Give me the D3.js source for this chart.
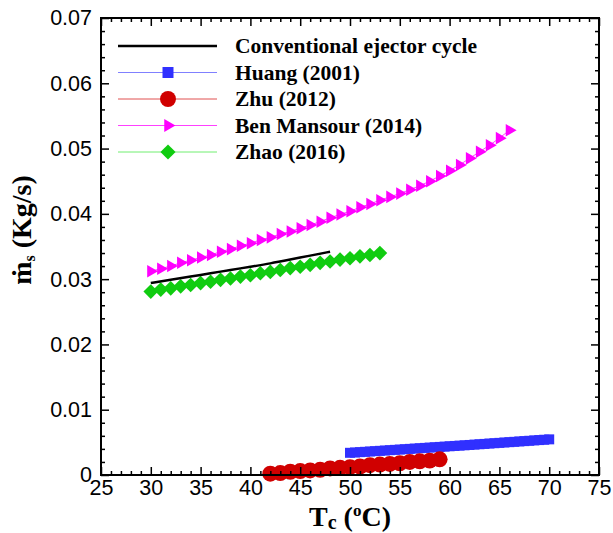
<!DOCTYPE html>
<html>
<head>
<meta charset="utf-8">
<script src="https://cdn.jsdelivr.net/npm/d3@7"></script>
<style>
  body { margin: 0; background: #fff; }
  svg { display: block; }
</style>
</head>
<body>
<svg id="chart" width="613" height="533"></svg>
<script>
// ---- data ----
const convT = [30, 32, 34, 36, 38, 40, 42, 44, 46, 48];
const convMs = [0.0294, 0.0299, 0.0304, 0.0309, 0.0314, 0.0319, 0.0324, 0.0330, 0.0336, 0.0342];

const huangT = [50, 50.5, 51, 51.5, 52, 52.5, 53, 53.5, 54, 54.5, 55, 55.5, 56, 56.5, 57, 57.5, 58, 58.5, 59, 59.5,
  60, 60.5, 61, 61.5, 62, 62.5, 63, 63.5, 64, 64.5, 65, 65.5, 66, 66.5, 67, 67.5, 68, 68.5, 69, 69.5, 70];
const huangMs = [0.00340, 0.00345, 0.00350, 0.00355, 0.00360, 0.00365, 0.00370, 0.00375, 0.00380, 0.00385,
  0.00390, 0.00395, 0.00400, 0.00405, 0.00410, 0.00415, 0.00420, 0.00425, 0.00430, 0.00435,
  0.00440, 0.00445, 0.00450, 0.00455, 0.00460, 0.00466, 0.00471, 0.00476, 0.00482, 0.00487,
  0.00492, 0.00498, 0.00503, 0.00508, 0.00514, 0.00519, 0.00524, 0.00530, 0.00535, 0.00540, 0.00546];

const zhuT = [42, 43, 44, 45, 46, 47, 48, 49, 50, 51, 52, 53, 54, 55, 56, 57, 58, 59];
const zhuMs = [0.0002, 0.0003, 0.0005, 0.0006, 0.0007, 0.0008, 0.0010, 0.0011, 0.0012, 0.0013,
  0.0015, 0.0016, 0.0017, 0.0018, 0.0020, 0.0021, 0.0022, 0.0024];

const benT = [30, 31, 32, 33, 34, 35, 36, 37, 38, 39, 40, 41, 42, 43, 44, 45, 46, 47, 48, 49,
  50, 51, 52, 53, 54, 55, 56, 57, 58, 59, 60, 61, 62, 63, 64, 65, 66];
const benMs = [0.0312, 0.0316, 0.0320, 0.0325, 0.0329, 0.0333, 0.0337, 0.0342, 0.0346, 0.0351,
  0.0355, 0.0360, 0.0364, 0.0369, 0.0373, 0.0378, 0.0383, 0.0388, 0.0394, 0.0399,
  0.0404, 0.0410, 0.0415, 0.0421, 0.0426, 0.0431, 0.0437, 0.0443, 0.0450, 0.0458,
  0.0466, 0.0475, 0.0485, 0.0495, 0.0505, 0.0516, 0.0528];

const zhaoT = [30, 31, 32, 33, 34, 35, 36, 37, 38, 39, 40, 41, 42, 43, 44, 45, 46, 47, 48, 49, 50, 51, 52, 53];
const zhaoMs = [0.0281, 0.0284, 0.0286, 0.0289, 0.0291, 0.0294, 0.0296, 0.0299, 0.0301, 0.0304,
  0.0306, 0.0309, 0.0311, 0.0314, 0.0317, 0.0319, 0.0322, 0.0325, 0.0327, 0.0330,
  0.0332, 0.0335, 0.0337, 0.0340];

const legendLabels = ["Conventional ejector cycle", "Huang (2001)", "Zhu (2012)", "Ben Mansour (2014)", "Zhao (2016)"];
const xTicks = [25, 30, 35, 40, 45, 50, 55, 60, 65, 70, 75];
const yTicks = [0, 0.01, 0.02, 0.03, 0.04, 0.05, 0.06, 0.07];

// ---- layout ----
const plotLeft = 101, plotRight = 599, plotTop = 18, plotBottom = 475;

const svg = d3.select("#chart");

const x = d3.scaleLinear().domain([25, 75]).range([plotLeft, plotRight]);
const y = d3.scaleLinear().domain([0, 0.07]).range([plotBottom, plotTop]);

const xMinor = d3.range(25, 76, 1).filter(v => v % 5 !== 0);
const yMinor = d3.range(0, 0.0701, 0.002).filter(v => Math.abs(v * 100 - Math.round(v * 100)) > 1e-6);

// ---- series styling (marker drawing) ----
const series = [
  { T: huangT, M: huangMs, line: "#8080ff", fill: "#3030ff", sym: d3.symbolSquare, size: 100, rot: 0, lsize: 121 },
  { T: zhuT, M: zhuMs, line: "#e05050", fill: "#d00000", sym: d3.symbolCircle, size: 200, rot: 0, lsize: 200 },
  { T: benT, M: benMs, line: "#ff40ff", fill: "#ff00ff", sym: d3.symbolTriangle, size: 68, rot: 90, lsize: 72 },
  { T: zhaoT, M: zhaoMs, line: "#70ee70", fill: "#10cc10", sym: d3.symbolSquare, size: 108, rot: 45, lsize: 115 }
];

const plot = svg.append("g");
const lineGen = d3.line().x(d => x(d[0])).y(d => y(d[1]));

series.forEach(s => {
  const pts = s.T.map((t, i) => [t, s.M[i]]);
  plot.append("path")
    .attr("d", lineGen(pts))
    .attr("fill", "none")
    .attr("stroke", s.line)
    .attr("stroke-width", 1);
  plot.selectAll(null)
    .data(pts)
    .enter().append("path")
    .attr("d", d3.symbol().type(s.sym).size(s.size))
    .attr("transform", d => "translate(" + x(d[0]) + "," + y(d[1]) + ") rotate(" + s.rot + ")")
    .attr("fill", s.fill);
});

// conventional cycle line
plot.append("path")
  .attr("d", d3.line().curve(d3.curveBasis).x(d => x(d[0])).y(d => y(d[1]))(convT.map((t, i) => [t, convMs[i]])))
  .attr("fill", "none")
  .attr("stroke", "#000")
  .attr("stroke-width", 2.5);

// ---- axes ----
function styleAxis(g) {
  g.select(".domain").remove();
  g.selectAll(".tick line").attr("stroke", "#000").attr("stroke-width", 1.5);
  g.selectAll("text")
    .attr("font-family", "'Liberation Sans', Arial, sans-serif")
    .attr("font-size", 21.5)
    .attr("fill", "#000");
}

svg.append("g").attr("transform", "translate(0," + plotBottom + ")")
  .call(d3.axisBottom(x).tickValues(xTicks).tickSize(-8).tickPadding(5).tickFormat(d3.format("d")))
  .call(styleAxis);
svg.append("g").attr("transform", "translate(0," + plotBottom + ")")
  .call(d3.axisBottom(x).tickValues(xMinor).tickSize(-4).tickFormat(""))
  .call(styleAxis);
svg.append("g").attr("transform", "translate(0," + plotTop + ")")
  .call(d3.axisTop(x).tickValues(xTicks).tickSize(-8).tickFormat(""))
  .call(styleAxis);
svg.append("g").attr("transform", "translate(0," + plotTop + ")")
  .call(d3.axisTop(x).tickValues(xMinor).tickSize(-4).tickFormat(""))
  .call(styleAxis);

svg.append("g").attr("transform", "translate(" + plotLeft + ",0)")
  .call(d3.axisLeft(y).tickValues(yTicks).tickSize(-8).tickPadding(9)
    .tickFormat(d => d === 0 ? "0" : d3.format(".2f")(d)))
  .call(styleAxis);
svg.append("g").attr("transform", "translate(" + plotLeft + ",0)")
  .call(d3.axisLeft(y).tickValues(yMinor).tickSize(-4).tickFormat(""))
  .call(styleAxis);
svg.append("g").attr("transform", "translate(" + plotRight + ",0)")
  .call(d3.axisRight(y).tickValues(yTicks).tickSize(-8).tickFormat(""))
  .call(styleAxis);
svg.append("g").attr("transform", "translate(" + plotRight + ",0)")
  .call(d3.axisRight(y).tickValues(yMinor).tickSize(-4).tickFormat(""))
  .call(styleAxis);

svg.append("rect")
  .attr("x", plotLeft).attr("y", plotTop)
  .attr("width", plotRight - plotLeft).attr("height", plotBottom - plotTop)
  .attr("fill", "none").attr("stroke", "#000").attr("stroke-width", 2);

// ---- axis titles ----
const xTitle = svg.append("text")
  .attr("x", (plotLeft + plotRight) / 2).attr("y", 526)
  .attr("text-anchor", "middle")
  .attr("font-family", "'Liberation Serif', 'Times New Roman', serif")
  .attr("font-weight", "bold").attr("font-size", 28);
xTitle.append("tspan").text("T");
xTitle.append("tspan").attr("font-size", 20).attr("dy", 3).text("c");
xTitle.append("tspan").attr("dy", -3).text(" (");
xTitle.append("tspan").attr("font-size", 17).attr("dy", -10).text("o");
xTitle.append("tspan").attr("dy", 10).text("C)");

const yTitle = svg.append("text")
  .attr("transform", "translate(31,230) rotate(-90)")
  .attr("text-anchor", "middle")
  .attr("font-family", "'Liberation Serif', 'Times New Roman', serif")
  .attr("font-weight", "bold").attr("font-size", 28);
yTitle.append("tspan").text("\u1E41");
yTitle.append("tspan").attr("font-size", 16).attr("dy", 4).text("s");
yTitle.append("tspan").attr("dy", -4).text(" (Kg/s)");

// ---- legend ----
const legendY = d3.scalePoint().domain(legendLabels).range([46, 152]);
const leg = svg.append("g");
legendLabels.forEach((lab, i) => {
  const cy = legendY(lab);
  if (i === 0) {
    leg.append("line").attr("x1", 118).attr("x2", 217).attr("y1", cy).attr("y2", cy)
      .attr("stroke", "#000").attr("stroke-width", 2.5);
  } else {
    const s = series[i - 1];
    leg.append("line").attr("x1", 118).attr("x2", 217).attr("y1", cy).attr("y2", cy)
      .attr("stroke", s.line).attr("stroke-width", 1);
    leg.append("path")
      .attr("d", d3.symbol().type(s.sym).size(s.lsize))
      .attr("transform", "translate(168," + cy + ") rotate(" + s.rot + ")")
      .attr("fill", s.fill);
  }
  leg.append("text")
    .attr("x", 235).attr("y", cy + 7)
    .attr("font-family", "'Liberation Serif', 'Times New Roman', serif")
    .attr("font-weight", "bold").attr("font-size", 21.5)
    .text(lab);
});
</script>
</body>
</html>
